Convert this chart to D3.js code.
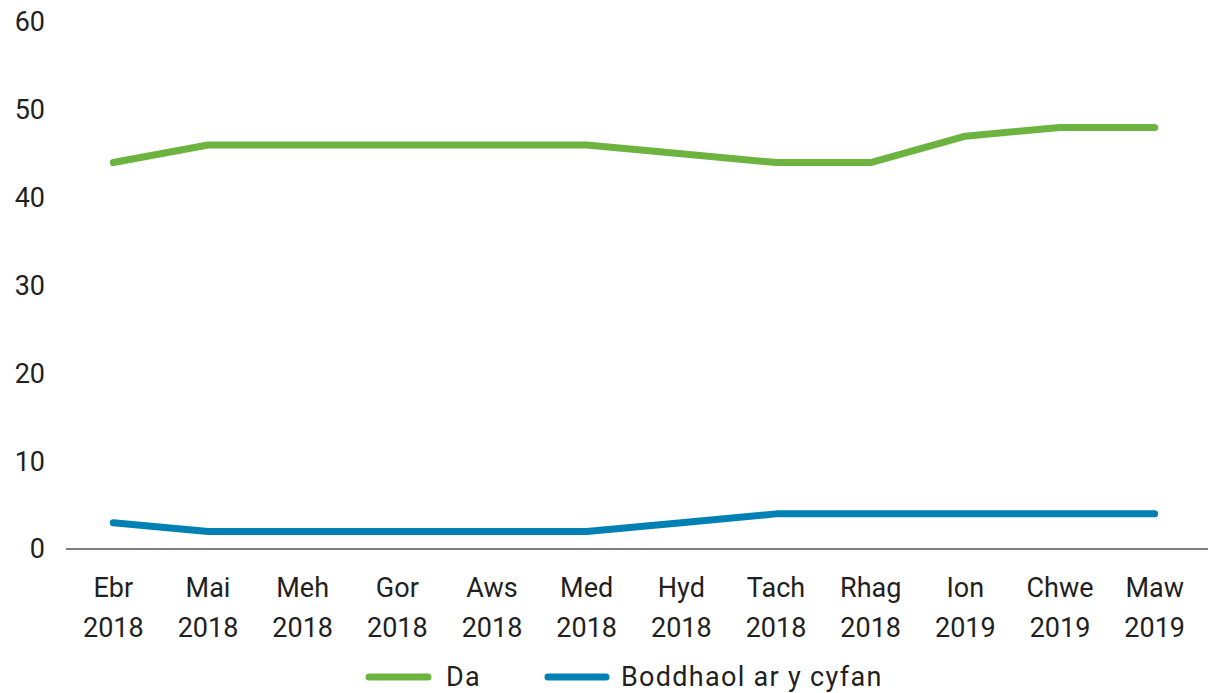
<!DOCTYPE html>
<html><head><meta charset="utf-8">
<script src="https://cdn.jsdelivr.net/npm/d3@7"></script>
<style>body{margin:0;background:#fff}svg text{font-family:Roboto,"DejaVu Sans",sans-serif;fill:#231f20}</style>
</head><body><svg id="c" width="1208" height="693"></svg>
<script>
const months = ["Ebr","Mai","Meh","Gor","Aws","Med","Hyd","Tach","Rhag","Ion","Chwe","Maw"];
const years = ["2018","2018","2018","2018","2018","2018","2018","2018","2018","2019","2019","2019"];
const yTicks = [0,10,20,30,40,50,60];
const daValues = [44,46,46,46,46,46,45,44,44,47,48,48];
const boddValues = [3,2,2,2,2,2,3,4,4,4,4,4];
const seriesNames = ["Da","Boddhaol ar y cyfan"];
const colors = ["#6db33f","#0080b3"];

const svg = d3.select("#c");
const x = d3.scaleBand().domain(d3.range(months.length)).range([66,1202]);
const y = d3.scaleLinear().domain([0,60]).range([549,22]);
const fs = 27;

svg.append("g").selectAll("text").data(yTicks).join("text")
  .attr("x",45).attr("y",d=>y(d)).attr("dy","0.35em").attr("text-anchor","end")
  .attr("font-size",fs).text(d=>d);

svg.append("line").attr("x1",66).attr("x2",1208).attr("y1",y(0)).attr("y2",y(0))
  .attr("stroke","#555").attr("stroke-width",1.5);

const xl = svg.append("g").selectAll("text").data(months).join("text")
  .attr("text-anchor","middle").attr("font-size",fs)
  .attr("transform",(d,i)=>`translate(${x(i)+x.bandwidth()/2},0)`);
xl.append("tspan").attr("x",0).attr("y",597).text(d=>d);
xl.append("tspan").attr("x",0).attr("y",637).text((d,i)=>years[i]);

const line = d3.line().x((d,i)=>x(i)+x.bandwidth()/2).y(d=>y(d)).curve(d3.curveLinear);
[daValues,boddValues].forEach((vals,k)=>{
  svg.append("path").attr("d",line(vals)).attr("fill","none")
    .attr("stroke",colors[k]).attr("stroke-width",7).attr("stroke-linecap","round").attr("stroke-linejoin","round");
});

const leg = [{x1:369,x2:428,tx:446},{x1:548,x2:606,tx:621}];
leg.forEach((l,k)=>{
  svg.append("line").attr("x1",l.x1).attr("x2",l.x2).attr("y1",677).attr("y2",677)
    .attr("stroke",colors[k]).attr("stroke-width",7).attr("stroke-linecap","round");
  svg.append("text").attr("x",l.tx).attr("y",677).attr("dy","0.35em").attr("font-size",fs)
    .attr("letter-spacing",1.3).text(seriesNames[k]);
});
</script></body></html>
